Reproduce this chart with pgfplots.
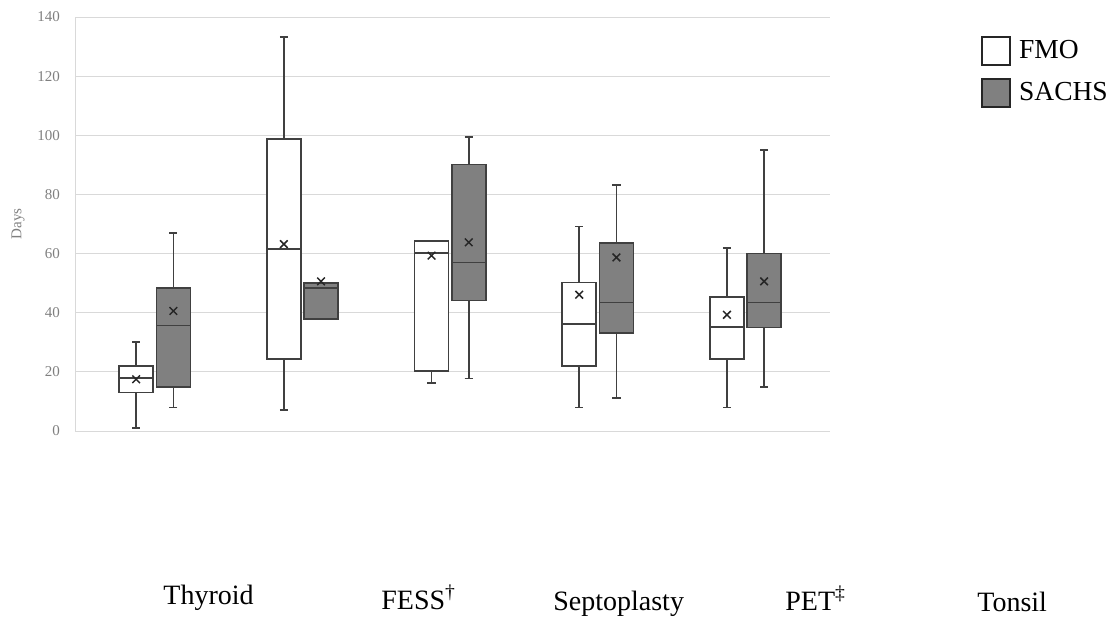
\documentclass[border=0pt]{standalone}
\usepackage{fontspec}
\setmainfont{Liberation Serif}
\usepackage{pgfplots}
\pgfplotsset{compat=1.18}
\usepgfplotslibrary{statistics}
\definecolor{boxgray}{HTML}{808080}
\definecolor{edge}{HTML}{404040}
\definecolor{gridc}{HTML}{D9D9D9}
\definecolor{tickc}{HTML}{7F7F7F}
\pgfplotsset{
  fmo/.style={draw=edge, fill=white, line width=0.85pt, forget plot, solid},
  sachs/.style={draw=edge, fill=boxgray, line width=0.85pt, forget plot, solid},
}
\begin{document}
\begin{tikzpicture}
\useasboundingbox (0,0) rectangle (559pt,309pt);
\begin{axis}[
  at={(37.5pt,93.5pt)}, anchor=south west,
  width=377.5pt, height=207pt, scale only axis,
  xmin=0.461, xmax=5.573, ymin=0, ymax=140,
  axis lines*=left,
  axis line style={draw=gridc, line width=0.5pt},
  xtick=\empty,
  ytick={0,20,...,140},
  ymajorgrids, grid style={draw=gridc, line width=0.5pt},
  major tick length=0pt,
  yticklabel style={font=\fontsize{7.5}{9}\selectfont, text=tickc, xshift=-4pt},
  /pgf/number format/assume math mode=true,
  ylabel={Days},
  ylabel style={at={(axis description cs:-0.0755,0.5)}, anchor=center, font=\fontsize{7.5}{9}\selectfont, text=tickc},
  clip=false,
  boxplot/draw direction=y,
  boxplot/box extend=0.23, boxplot/whisker extend=0.055,
  legend style={at={(axis description cs:1.2,0.954)}, anchor=north west, draw=none, fill=none, inner sep=0pt, font=\fontsize{13.75}{15.5}\selectfont, row sep=6pt, column sep=2pt},
  legend cell align=left,
]
% Group 1: Thyroid
\addplot[fmo, boxplot prepared={draw position=0.875, lower whisker=1.1, lower quartile=13, median=18, upper quartile=22.1, upper whisker=30}] coordinates {};
\addplot[sachs, boxplot prepared={draw position=1.127, lower whisker=8, lower quartile=14.8, median=35.7, upper quartile=48.3, upper whisker=67}] coordinates {};
% Group 2
\addplot[fmo, boxplot prepared={draw position=1.875, lower whisker=7.1, lower quartile=24.3, median=61.5, upper quartile=98.8, upper whisker=133.2}] coordinates {};
\addplot[sachs, boxplot prepared={draw position=2.127, lower whisker=37.9, lower quartile=37.9, median=48.3, upper quartile=50, upper whisker=50}] coordinates {};
% Group 3
\addplot[fmo, boxplot prepared={draw position=2.875, lower whisker=16.2, lower quartile=20.3, median=60.2, upper quartile=64.3, upper whisker=64.3}] coordinates {};
\addplot[sachs, boxplot prepared={draw position=3.127, lower whisker=17.8, lower quartile=44.1, median=57, upper quartile=90.1, upper whisker=99.4}] coordinates {};
% Group 4
\addplot[fmo, boxplot prepared={draw position=3.875, lower whisker=8, lower quartile=22, median=36.2, upper quartile=50.2, upper whisker=69.2}] coordinates {};
\addplot[sachs, boxplot prepared={draw position=4.127, lower whisker=11.1, lower quartile=33.1, median=43.5, upper quartile=63.6, upper whisker=83.3}] coordinates {};
% Group 5
\addplot[fmo, boxplot prepared={draw position=4.875, lower whisker=8, lower quartile=24.3, median=35.1, upper quartile=45.3, upper whisker=61.9}] coordinates {};
\addplot[sachs, boxplot prepared={draw position=5.127, lower whisker=15, lower quartile=35, median=43.5, upper quartile=60, upper whisker=95}] coordinates {};
% Means
\addplot[only marks, mark=x, mark size=2.7pt, mark options={line width=0.75pt, draw=black!85}, forget plot] coordinates {
  (0.875,17.5) (1.127,40.6) (1.875,63.2) (2.127,50.6) (2.875,59.3)
  (3.127,63.8) (3.875,46.1) (4.127,58.7) (4.875,39.3) (5.127,50.6)};
% Legend
\addlegendimage{legend image code/.code={\draw[draw=black!85,fill=white,line width=0.85pt] (0pt,-7pt) rectangle (14pt,7pt);}}
\addlegendentry{FMO}
\addlegendimage{legend image code/.code={\draw[draw=black!85,fill=boxgray,line width=0.85pt] (0pt,-7pt) rectangle (14pt,7pt);}}
\addlegendentry{SACHS}
% Category labels
\node[anchor=base west, font=\fontsize{14}{16}\selectfont, inner sep=0pt] at (axis cs:1.057,-58.6) {Thyroid};
\node[anchor=base west, font=\fontsize{14}{16}\selectfont, inner sep=0pt] at (axis cs:2.533,-60.3) {FESS\textsuperscript{\dag}};
\node[anchor=base west, font=\fontsize{14}{16}\selectfont, inner sep=0pt] at (axis cs:3.697,-60.6) {Septoplasty};
\node[anchor=base west, font=\fontsize{14}{16}\selectfont, inner sep=0pt] at (axis cs:5.268,-60.6) {PET\textsuperscript{\ddag}};
\node[anchor=base west, font=\fontsize{14}{16}\selectfont, inner sep=0pt] at (axis cs:6.568,-61) {Tonsil};
\end{axis}
\end{tikzpicture}
\end{document}
